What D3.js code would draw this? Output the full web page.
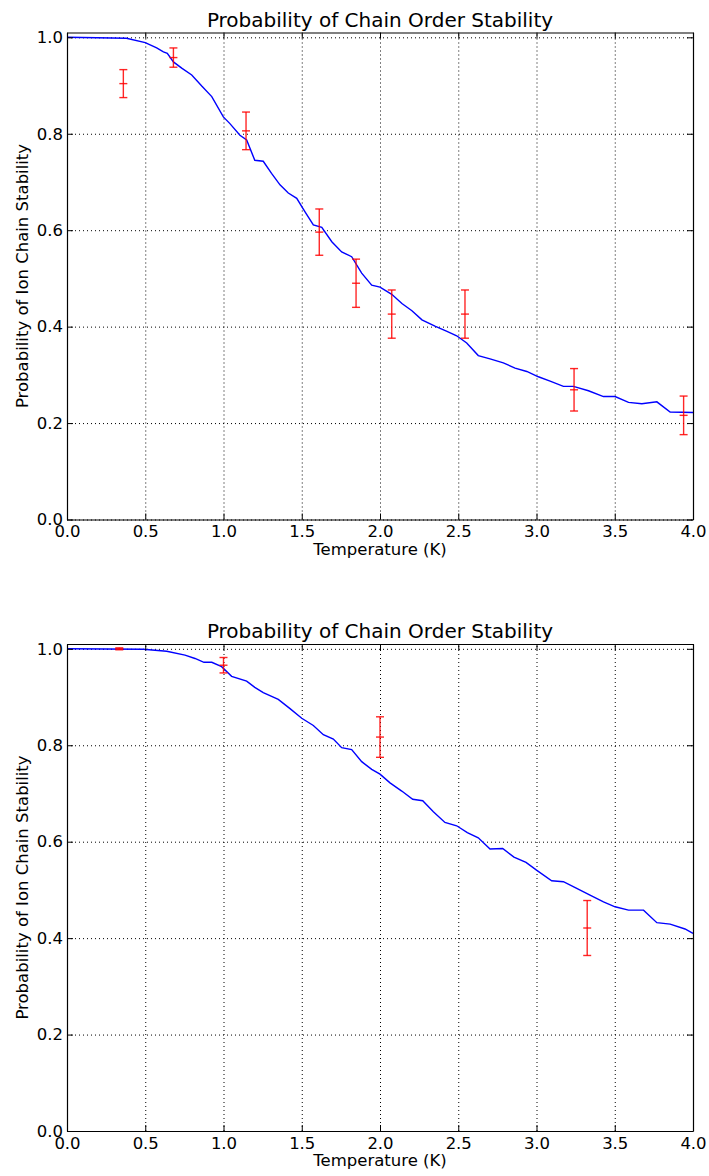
<!DOCTYPE html>
<html>
<head>
<meta charset="utf-8">
<script src="https://cdn.jsdelivr.net/npm/d3@7"></script>
<style>
  body { margin: 0; background: #fff; }
  text { font-family: "DejaVu Sans", sans-serif; fill: #000; }
  .grid line { stroke: #000; stroke-dasharray: 1,3; stroke-width: 1; }
  .grid path { display: none; }
  .frame path, .frame line { stroke: #000; }
</style>
</head>
<body>
<div id="chart"></div>
<script>
// Top panel: simulated curve
const topLineT = [0, 0.38, 0.5, 0.573, 0.616, 0.641, 0.68, 0.733, 0.797, 0.861, 0.925, 0.999, 1.041, 1.105, 1.148,
  1.2, 1.254, 1.307, 1.361, 1.414, 1.468, 1.521, 1.574, 1.628, 1.692, 1.755, 1.819, 1.883, 1.947, 2.0, 2.075,
  2.14, 2.204, 2.268, 2.351, 2.428, 2.49, 2.554, 2.628, 2.703, 2.788, 2.863, 2.938, 3.012, 3.087, 3.172, 3.236,
  3.332, 3.428, 3.502, 3.588, 3.673, 3.769, 3.854, 4.0];
const topLineP = [1.0, 0.998, 0.989, 0.978, 0.970, 0.967, 0.949, 0.936, 0.922, 0.899, 0.877, 0.835, 0.821, 0.797, 0.787,
  0.745, 0.743, 0.718, 0.694, 0.677, 0.666, 0.638, 0.611, 0.606, 0.576, 0.555, 0.545, 0.511, 0.486, 0.482, 0.467,
  0.448, 0.433, 0.414, 0.401, 0.390, 0.381, 0.366, 0.340, 0.333, 0.325, 0.314, 0.307, 0.296, 0.287, 0.276, 0.276,
  0.267, 0.255, 0.255, 0.243, 0.240, 0.244, 0.223, 0.222];
// Top panel: measurements
const topErrT = [0.36, 0.68, 1.144, 1.612, 1.847, 2.075, 2.543, 3.24, 3.94];
const topErrP = [0.904, 0.958, 0.806, 0.596, 0.490, 0.426, 0.426, 0.269, 0.216];
const topErrE = [0.029, 0.020, 0.039, 0.048, 0.050, 0.050, 0.050, 0.044, 0.040];

// Bottom panel: simulated curve
const botLineT = [0, 0.488, 0.637, 0.754, 0.818, 0.875, 0.925, 0.988, 1.052, 1.148, 1.2, 1.254, 1.35, 1.425, 1.5,
  1.574, 1.638, 1.702, 1.755, 1.819, 1.883, 1.947, 2.0, 2.064, 2.139, 2.209, 2.273, 2.341, 2.415, 2.49, 2.558,
  2.628, 2.703, 2.784, 2.856, 2.933, 3.0, 3.097, 3.172, 3.257, 3.342, 3.428, 3.502, 3.588, 3.684, 3.769, 3.854,
  3.949, 4.0];
const botLineP = [1.0, 0.999, 0.995, 0.987, 0.980, 0.972, 0.972, 0.963, 0.943, 0.933, 0.920, 0.909, 0.895, 0.876, 0.856,
  0.841, 0.822, 0.813, 0.795, 0.791, 0.766, 0.750, 0.740, 0.722, 0.705, 0.688, 0.685, 0.662, 0.640, 0.633, 0.619,
  0.608, 0.585, 0.586, 0.568, 0.557, 0.541, 0.519, 0.517, 0.503, 0.489, 0.475, 0.465, 0.458, 0.458, 0.432, 0.429,
  0.419, 0.410];
// Bottom panel: measurements
const botErrT = [0.334, 1.0, 2.0, 3.324];
const botErrP = [1.0, 0.966, 0.817, 0.421];
const botErrE = [0.002, 0.016, 0.042, 0.057];

const xTicks = [0, 0.5, 1, 1.5, 2, 2.5, 3, 3.5, 4];
const yTicks = [0, 0.2, 0.4, 0.6, 0.8, 1.0];

const titleText = "Probability of Chain Order Stability";
const xLabel = "Temperature (K)";
const yLabel = "Probability of Ion Chain Stability";

const W = 709, H = 1176;
const left = 67, right = 693;
const plotH = 487;

const svg = d3.select("#chart").append("svg")
  .attr("width", W).attr("height", H);

function drawPanel(top, lineT, lineP, errT, errP, errE) {
  const x = d3.scaleLinear().domain([0, 4]).range([left, right]);
  const y = d3.scaleLinear().domain([0, 1.01]).range([top + plotH, top]);
  const g = svg.append("g");

  // grid
  g.append("g").attr("class", "grid")
    .attr("transform", `translate(0,${top + plotH})`)
    .call(d3.axisBottom(x).tickValues(xTicks).tickSize(-plotH).tickFormat(""));
  g.append("g").attr("class", "grid")
    .attr("transform", `translate(${left},0)`)
    .call(d3.axisLeft(y).tickValues(yTicks).tickSize(-(right - left)).tickFormat(""));

  // curve
  const line = d3.line().x((d, i) => x(lineT[i])).y((d, i) => y(lineP[i]));
  g.append("path").datum(lineP)
    .attr("d", line)
    .attr("fill", "none")
    .attr("stroke", "#0000ff")
    .attr("stroke-width", 1.4);

  // error bars
  const cap = 4;
  const eb = g.append("g").attr("stroke", "#ff0000").attr("stroke-opacity", 0.85).attr("stroke-width", 1.4);
  errT.forEach((t, i) => {
    const cx = x(t);
    eb.append("line").attr("x1", cx).attr("x2", cx)
      .attr("y1", y(errP[i] + errE[i])).attr("y2", y(errP[i] - errE[i]));
    [errP[i] + errE[i], errP[i] - errE[i], errP[i]].forEach(v => {
      eb.append("line").attr("x1", cx - cap).attr("x2", cx + cap)
        .attr("y1", y(v)).attr("y2", y(v));
    });
  });

  // frame with inward ticks on all sides
  const tk = 6;
  g.append("g").attr("class", "frame")
    .attr("transform", `translate(0,${top + plotH})`)
    .call(d3.axisBottom(x).tickValues(xTicks).tickSize(-tk).tickSizeOuter(0).tickFormat(d3.format(".1f")).tickPadding(6))
    .call(a => a.selectAll("text").style("font-size", "16.5px").attr("dy", "0.71em"));
  g.append("g").attr("class", "frame")
    .attr("transform", `translate(0,${top})`)
    .call(d3.axisTop(x).tickValues(xTicks).tickSize(-tk).tickSizeOuter(0).tickFormat(""));
  g.append("g").attr("class", "frame")
    .attr("transform", `translate(${left},0)`)
    .call(d3.axisLeft(y).tickValues(yTicks).tickSize(-tk).tickSizeOuter(0).tickFormat(d3.format(".1f")).tickPadding(4))
    .call(a => a.selectAll("text").style("font-size", "16.5px"));
  g.append("g").attr("class", "frame")
    .attr("transform", `translate(${right},0)`)
    .call(d3.axisRight(y).tickValues(yTicks).tickSize(-tk).tickSizeOuter(0).tickFormat(""));
  g.selectAll(".frame .domain").attr("stroke-width", 1.2);

  // labels
  g.append("text").attr("x", (left + right) / 2).attr("y", top - 6)
    .attr("text-anchor", "middle").style("font-size", "20px").text(titleText);
  g.append("text").attr("x", (left + right) / 2).attr("y", top + plotH + 35)
    .attr("text-anchor", "middle").style("font-size", "16.5px").text(xLabel);
  g.append("text")
    .attr("transform", `translate(28,${top + plotH / 2}) rotate(-90)`)
    .attr("text-anchor", "middle").style("font-size", "16.5px").text(yLabel);
}

drawPanel(32.5, topLineT, topLineP, topErrT, topErrP, topErrE);
drawPanel(644, botLineT, botLineP, botErrT, botErrP, botErrE);
</script>
</body>
</html>
